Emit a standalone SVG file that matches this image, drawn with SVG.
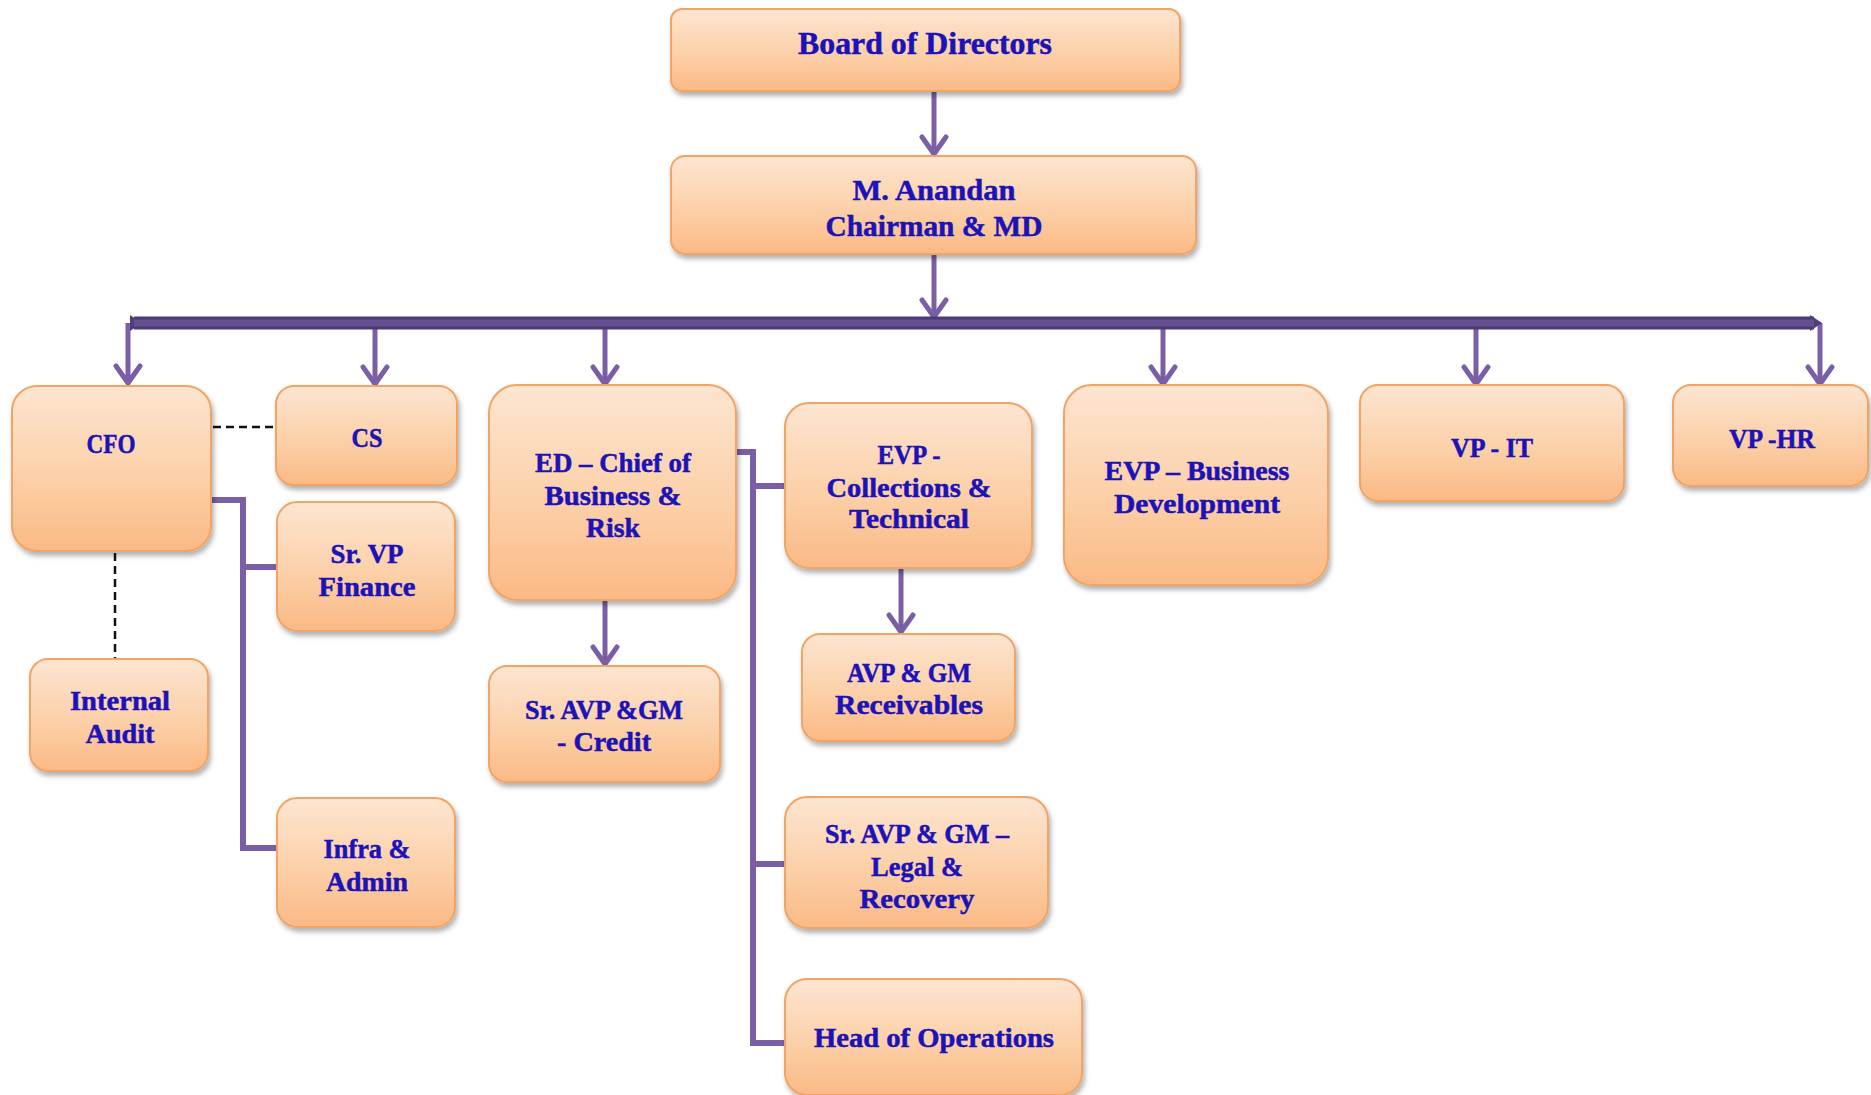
<svg xmlns="http://www.w3.org/2000/svg" width="1871" height="1095" viewBox="0 0 1871 1095">
<defs>
<linearGradient id="peach" x1="0" y1="0" x2="0" y2="1">
<stop offset="0" stop-color="#fde5d1"/>
<stop offset="0.55" stop-color="#fcd0a8"/>
<stop offset="1" stop-color="#fbb985"/>
</linearGradient>
<filter id="sh" x="-10%" y="-10%" width="125%" height="130%">
<feDropShadow dx="2" dy="4" stdDeviation="2.5" flood-color="#000" flood-opacity="0.3"/>
</filter>
<marker id="chev" viewBox="0 0 24 30" refX="20" refY="15" markerWidth="24" markerHeight="30" markerUnits="userSpaceOnUse" orient="auto">
<path d="M3,3 L20,15 L3,27" fill="none" stroke="#7b5fa6" stroke-width="5" stroke-linecap="round" stroke-linejoin="round"/>
</marker>
<marker id="tip" viewBox="0 0 12 20" refX="4" refY="10" markerWidth="12" markerHeight="20" markerUnits="userSpaceOnUse" orient="auto">
<path d="M0,2 L12,10 L0,18 Z" fill="#4e3d7a"/>
</marker>
</defs>
<style>
.box{fill:url(#peach);stroke:#f1a463;stroke-width:2;filter:url(#sh)}
.t{font-family:"Liberation Serif","DejaVu Serif",serif;font-weight:bold;fill:#1b12b8;stroke:#1b12b8;stroke-width:0.5;text-anchor:middle}
.n{font-size:28px}
.c{fill:none;stroke:#7b5fa6;stroke-width:6}
.a{fill:none;stroke:#7b5fa6;stroke-width:5;marker-end:url(#chev)}
.d{fill:none;stroke:#111;stroke-width:2.5;stroke-dasharray:8,5}
</style>
<rect width="1871" height="1095" fill="#ffffff"/>

<g id="connectors">
<line class="a" x1="934" y1="91" x2="934" y2="154"/>
<line class="a" x1="934" y1="254" x2="934" y2="317"/>
<line class="a" x1="128" y1="323" x2="128" y2="383"/>
<line class="a" x1="375" y1="323" x2="375" y2="384"/>
<line class="a" x1="605" y1="323" x2="605" y2="384"/>
<line class="a" x1="1163" y1="323" x2="1163" y2="384"/>
<line class="a" x1="1476" y1="323" x2="1476" y2="384"/>
<line class="a" x1="1820" y1="323" x2="1820" y2="384"/>
<line x1="134" y1="323" x2="1814" y2="323" stroke="#4a3a75" stroke-width="13" marker-start="url(#tip)" marker-end="url(#tip)"/>
<line x1="134" y1="323" x2="1814" y2="323" stroke="#65508f" stroke-width="7"/>
<line class="a" x1="605" y1="600" x2="605" y2="664"/>
<line class="a" x1="901" y1="568" x2="901" y2="632"/>
<path class="c" d="M211,500 H243 V848 H277"/>
<path class="c" d="M243,567 H277"/>
<path class="c" d="M736,452 H753 V1043 H785"/>
<path class="c" d="M753,486 H785"/>
<path class="c" d="M753,864 H785"/>
<line class="d" x1="213" y1="427" x2="278" y2="427"/>
<line class="d" x1="115" y1="553" x2="115" y2="658"/>
</g>

<g id="board">
<rect class="box" x="671" y="9" width="509" height="82" rx="11"/>
<text class="t" x="925" y="54" font-size="31" textLength="254" lengthAdjust="spacingAndGlyphs">Board of Directors</text>
</g>
<g id="md">
<rect class="box" x="671" y="156" width="525" height="98" rx="14"/>
<text class="t" x="934" y="200" font-size="30" textLength="163" lengthAdjust="spacingAndGlyphs">M. Anandan</text>
<text class="t" x="934" y="236" font-size="30" textLength="217" lengthAdjust="spacingAndGlyphs">Chairman &amp; MD</text>
</g>
<g id="cfo">
<rect class="box" x="12" y="386" width="199" height="165" rx="25"/>
<text class="t n" x="111" y="453" textLength="49" lengthAdjust="spacingAndGlyphs">CFO</text>
</g>
<g id="cs">
<rect class="box" x="276" y="386" width="181" height="99" rx="18"/>
<text class="t n" x="367" y="447" textLength="31" lengthAdjust="spacingAndGlyphs">CS</text>
</g>
<g id="srvp-finance">
<rect class="box" x="277" y="502" width="178" height="129" rx="20"/>
<text class="t n" x="367" y="563" textLength="73" lengthAdjust="spacingAndGlyphs">Sr. VP</text>
<text class="t n" x="367" y="596" textLength="97" lengthAdjust="spacingAndGlyphs">Finance</text>
</g>
<g id="internal-audit">
<rect class="box" x="30" y="659" width="178" height="112" rx="18"/>
<text class="t n" x="120" y="710" textLength="100" lengthAdjust="spacingAndGlyphs">Internal</text>
<text class="t n" x="120" y="743" textLength="69" lengthAdjust="spacingAndGlyphs">Audit</text>
</g>
<g id="infra-admin">
<rect class="box" x="277" y="798" width="178" height="129" rx="20"/>
<text class="t n" x="367" y="858" textLength="87" lengthAdjust="spacingAndGlyphs">Infra &amp;</text>
<text class="t n" x="367" y="891" textLength="82" lengthAdjust="spacingAndGlyphs">Admin</text>
</g>
<g id="ed">
<rect class="box" x="489" y="385" width="247" height="215" rx="28"/>
<text class="t n" x="613" y="472" textLength="156" lengthAdjust="spacingAndGlyphs">ED – Chief of</text>
<text class="t n" x="613" y="505" textLength="137" lengthAdjust="spacingAndGlyphs">Business &amp;</text>
<text class="t n" x="613" y="537" textLength="54" lengthAdjust="spacingAndGlyphs">Risk</text>
</g>
<g id="sr-avp-credit">
<rect class="box" x="489" y="666" width="231" height="116" rx="18"/>
<text class="t n" x="604" y="719" textLength="158" lengthAdjust="spacingAndGlyphs">Sr. AVP &amp;GM</text>
<text class="t n" x="604" y="751" textLength="94" lengthAdjust="spacingAndGlyphs">- Credit</text>
</g>
<g id="evp-collections">
<rect class="box" x="785" y="403" width="247" height="165" rx="24"/>
<text class="t n" x="909" y="464" textLength="63" lengthAdjust="spacingAndGlyphs">EVP -</text>
<text class="t n" x="909" y="497" textLength="165" lengthAdjust="spacingAndGlyphs">Collections &amp;</text>
<text class="t n" x="909" y="528" textLength="120" lengthAdjust="spacingAndGlyphs">Technical</text>
</g>
<g id="avp-receivables">
<rect class="box" x="802" y="634" width="213" height="107" rx="18"/>
<text class="t n" x="909" y="682" textLength="124" lengthAdjust="spacingAndGlyphs">AVP &amp; GM</text>
<text class="t n" x="909" y="714" textLength="148" lengthAdjust="spacingAndGlyphs">Receivables</text>
</g>
<g id="sr-avp-legal">
<rect class="box" x="785" y="797" width="263" height="131" rx="22"/>
<text class="t n" x="917" y="843" textLength="184" lengthAdjust="spacingAndGlyphs">Sr. AVP &amp; GM –</text>
<text class="t n" x="917" y="876" textLength="92" lengthAdjust="spacingAndGlyphs">Legal &amp;</text>
<text class="t n" x="917" y="908" textLength="115" lengthAdjust="spacingAndGlyphs">Recovery</text>
</g>
<g id="head-operations">
<rect class="box" x="785" y="979" width="297" height="116" rx="22"/>
<text class="t n" x="934" y="1047" textLength="240" lengthAdjust="spacingAndGlyphs">Head of Operations</text>
</g>
<g id="evp-bd">
<rect class="box" x="1064" y="385" width="264" height="200" rx="28"/>
<text class="t n" x="1197" y="480" textLength="185" lengthAdjust="spacingAndGlyphs">EVP – Business</text>
<text class="t n" x="1197" y="513" textLength="166" lengthAdjust="spacingAndGlyphs">Development</text>
</g>
<g id="vp-it">
<rect class="box" x="1360" y="385" width="264" height="116" rx="18"/>
<text class="t n" x="1492" y="457" textLength="82" lengthAdjust="spacingAndGlyphs">VP - IT</text>
</g>
<g id="vp-hr">
<rect class="box" x="1673" y="385" width="195" height="101" rx="18"/>
<text class="t n" x="1772" y="448" textLength="86" lengthAdjust="spacingAndGlyphs">VP -HR</text>
</g>
</svg>
